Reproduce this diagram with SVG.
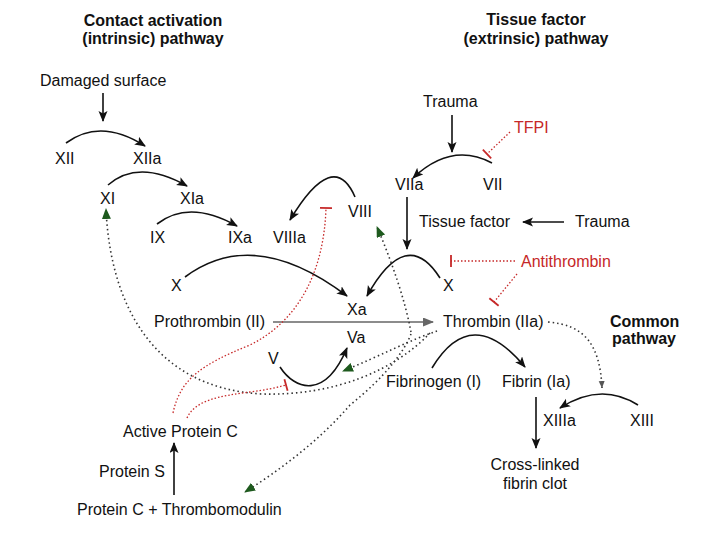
<svg xmlns="http://www.w3.org/2000/svg" width="720" height="540" viewBox="0 0 720 540">
<style>
text{font-family:"Liberation Sans",Arial,Helvetica,sans-serif;font-size:16px;fill:#111}
.b{font-weight:bold}
.r{fill:#c62828}
.m{text-anchor:middle}
.s{fill:none;stroke:#111;stroke-width:1.6}
.g{fill:none;stroke:#666;stroke-width:1.6}
.d{fill:none;stroke:#333;stroke-width:1.6;stroke-dasharray:1.5 3}
.rd{fill:none;stroke:#c62828;stroke-width:1.3;stroke-dasharray:1.5 2}
</style>
<defs>
<marker id="ah" markerUnits="userSpaceOnUse" markerWidth="12" markerHeight="10" refX="10" refY="4.5" orient="auto"><path d="M0,0 L11,4.5 L0,9 L2.5,4.5 z" fill="#111"/></marker>
<marker id="ahg" markerUnits="userSpaceOnUse" markerWidth="12" markerHeight="10" refX="10" refY="4.5" orient="auto"><path d="M0,0 L11,4.5 L0,9 z" fill="#666"/></marker>
<marker id="ahgr" markerUnits="userSpaceOnUse" markerWidth="12" markerHeight="10" refX="10" refY="4.5" orient="auto"><path d="M0,0 L11,4.5 L0,9 z" fill="#1e5a1e"/></marker>
<marker id="ahs" markerUnits="userSpaceOnUse" markerWidth="8" markerHeight="8" refX="7" refY="3" orient="auto"><path d="M0,0 L7,3 L0,6 z" fill="#555"/></marker>
<marker id="tb" markerUnits="userSpaceOnUse" markerWidth="4" markerHeight="14" refX="2" refY="7" orient="auto"><path d="M2,1 L2,13" stroke="#c62828" stroke-width="1.8"/></marker>
</defs>

<g id="connectors">
<!-- solid activation arcs -->
<path class="s" d="M103 93 L103 121" marker-end="url(#ah)"/>
<path class="s" d="M66 143 Q100.5 117.5 145 146" marker-end="url(#ah)"/>
<path class="s" d="M108 185 Q138.5 158.5 187 186" marker-end="url(#ah)"/>
<path class="s" d="M157 224 Q189 199 237 226" marker-end="url(#ah)"/>
<path class="s" d="M185 277 Q254 225.5 347 296" marker-end="url(#ah)"/>
<path class="s" d="M355 197 Q333.5 147.5 290 220" marker-end="url(#ah)"/>
<path class="s" d="M452 115 L452 152" marker-end="url(#ah)"/>
<path class="s" d="M492 163 Q451.5 141.5 413 178" marker-end="url(#ah)"/>
<path class="s" d="M407 197 L407 249" marker-end="url(#ah)"/>
<path class="s" d="M564 222 L523 222" marker-end="url(#ah)"/>
<path class="s" d="M440 278 Q406.5 225 367 296" marker-end="url(#ah)"/>
<path class="g" d="M273 322 L433 322" marker-end="url(#ahg)"/>
<path class="s" d="M280 367 C295 390 325 400 347 348" marker-end="url(#ah)"/>
<path class="s" d="M432 368 Q471.5 302.5 525 367" marker-end="url(#ah)"/>
<path class="s" d="M638 405 Q601 381.5 560 408" marker-end="url(#ah)"/>
<path class="s" d="M536 397 L536 448" marker-end="url(#ah)"/>
<path class="s" d="M174 495 L174 443" marker-end="url(#ah)"/>
<!-- thrombin feedback (dotted) -->
<path class="d" d="M430 333 C395 370 335 396 262 394 C150 388 110 300 106 209" marker-end="url(#ahgr)"/>
<path class="d" d="M411 332 C405 300 392 262 377 227" marker-end="url(#ahgr)"/>
<path class="d" d="M437 331 C410 340 380 356 343 371" marker-end="url(#ahgr)"/>
<path class="d" d="M411 334 C404 352 385 377 350 405 C320 440 280 470 245 492" marker-end="url(#ahgr)"/>
<path class="d" d="M548 322 C585 325 600 345 602 388" marker-end="url(#ahs)"/>
<!-- inhibitors (red) -->
<path class="rd" d="M510 132 L487 154" marker-end="url(#tb)"/>
<path class="rd" d="M515 261 L451 261" marker-end="url(#tb)"/>
<path class="rd" d="M517 274 L494 302" marker-end="url(#tb)"/>
<path class="rd" d="M173 413 C180 380 200 365 250 345 C300 320 324 270 326 208" marker-end="url(#tb)"/>
<path class="rd" d="M187 418 C195 400 220 396 250 392 C265 390 275 388 286 385" marker-end="url(#tb)"/>
</g>

<g id="title-intrinsic"><text class="b m" x="153" y="26">Contact activation</text><text class="b m" x="153" y="44">(intrinsic) pathway</text></g>
<g id="title-extrinsic"><text class="b m" x="536" y="25">Tissue factor</text><text class="b m" x="536" y="44">(extrinsic) pathway</text></g>
<g id="title-common"><text class="b" x="610" y="327">Common</text><text class="b" x="612" y="344">pathway</text></g>

<g id="damaged-surface"><text x="40" y="86">Damaged surface</text></g>
<g id="xii"><text x="55" y="164">XII</text></g>
<g id="xiia"><text x="133" y="164">XIIa</text></g>
<g id="xi"><text x="100" y="204">XI</text></g>
<g id="xia"><text x="180" y="204">XIa</text></g>
<g id="ix"><text x="150" y="243">IX</text></g>
<g id="ixa"><text x="228" y="243">IXa</text></g>
<g id="viiia"><text x="273" y="243">VIIIa</text></g>
<g id="viii"><text x="348" y="217">VIII</text></g>
<g id="x-intrinsic"><text x="171" y="291">X</text></g>
<g id="xa"><text x="347" y="315">Xa</text></g>
<g id="prothrombin"><text x="154" y="327">Prothrombin (II)</text></g>
<g id="va"><text x="347" y="343">Va</text></g>
<g id="v"><text x="268" y="364">V</text></g>
<g id="trauma-1"><text x="423" y="107">Trauma</text></g>
<g id="tfpi"><text class="r" x="514" y="133">TFPI</text></g>
<g id="viia"><text x="395" y="190">VIIa</text></g>
<g id="vii"><text x="483" y="190">VII</text></g>
<g id="tissue-factor"><text x="419" y="227">Tissue factor</text></g>
<g id="trauma-2"><text x="575" y="227">Trauma</text></g>
<g id="antithrombin"><text class="r" x="521" y="267">Antithrombin</text></g>
<g id="x-extrinsic"><text x="443" y="291">X</text></g>
<g id="thrombin"><text x="443" y="327">Thrombin (IIa)</text></g>
<g id="fibrinogen"><text x="386" y="387">Fibrinogen (I)</text></g>
<g id="fibrin"><text x="502" y="387">Fibrin (Ia)</text></g>
<g id="xiiia"><text x="543" y="426">XIIIa</text></g>
<g id="xiii"><text x="630" y="426">XIII</text></g>
<g id="clot"><text class="m" x="535" y="470">Cross-linked</text><text class="m" x="535" y="489">fibrin clot</text></g>
<g id="active-protein-c"><text x="123" y="437">Active Protein C</text></g>
<g id="protein-s"><text x="99" y="477">Protein S</text></g>
<g id="protein-c-tm"><text x="77" y="515">Protein C + Thrombomodulin</text></g>
</svg>
